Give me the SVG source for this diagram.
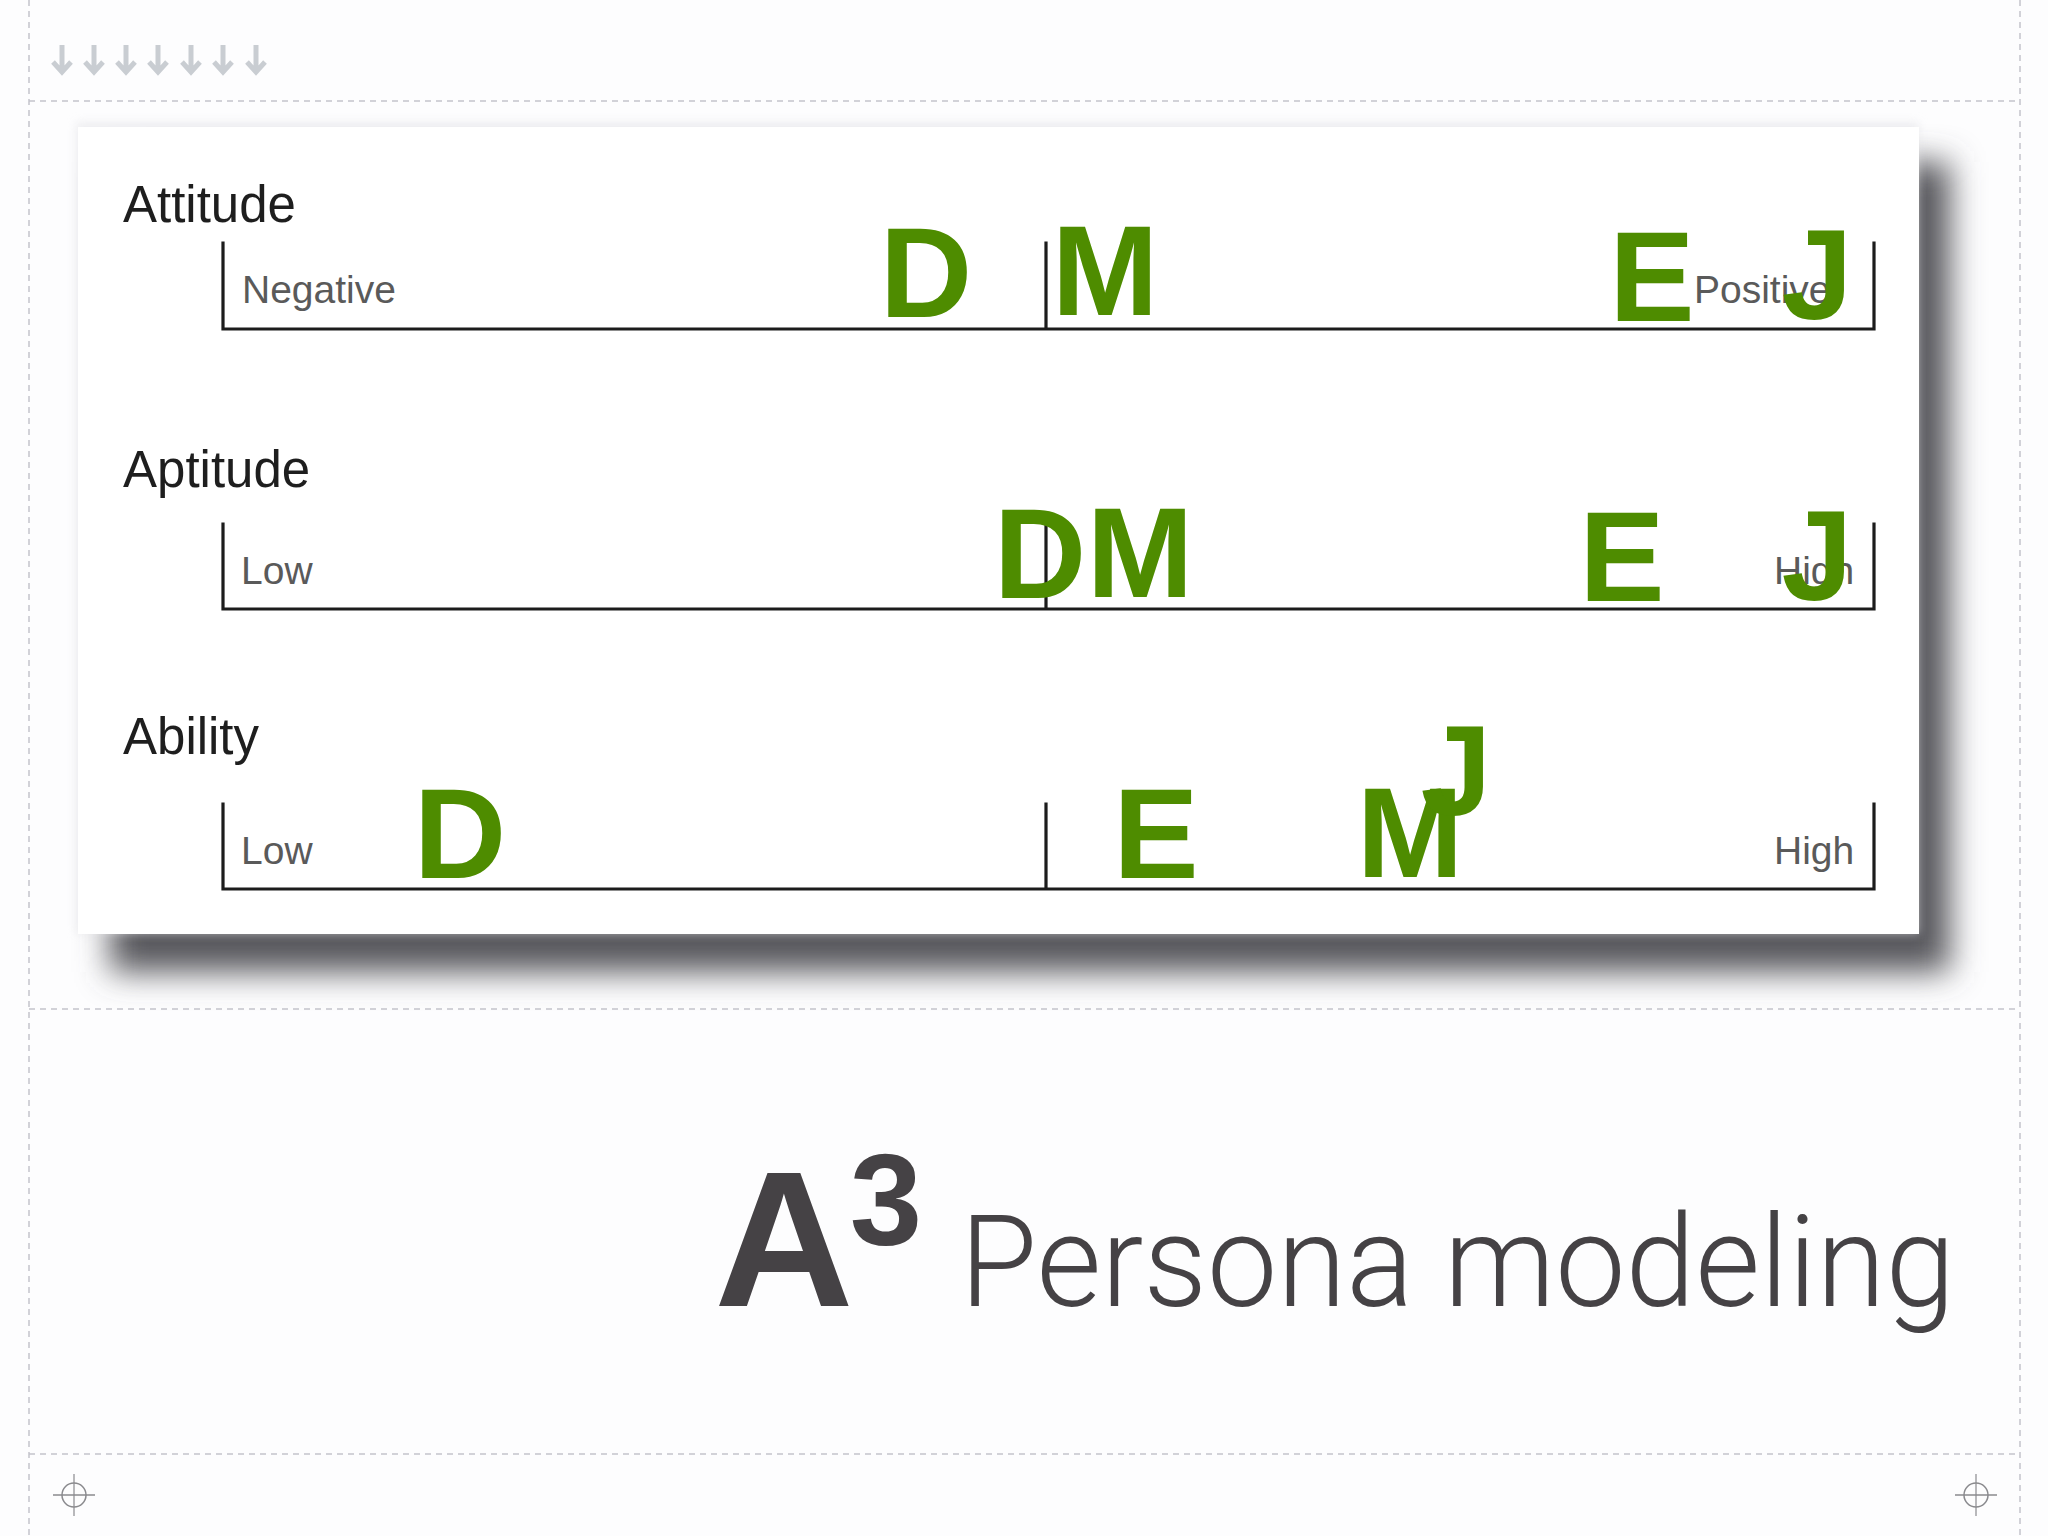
<svg xmlns="http://www.w3.org/2000/svg" width="2048" height="1536" viewBox="0 0 2048 1536">
  <defs>
    <filter id="shadowBlur" x="-10%" y="-10%" width="120%" height="120%">
      <feGaussianBlur stdDeviation="16"/>
    </filter>
    <filter id="ambient" x="-5%" y="-5%" width="110%" height="110%">
      <feGaussianBlur stdDeviation="5"/>
    </filter>
    <path id="darrow" d="M0,-14 V12 M-9,3 L0,13 L9,3" fill="none" stroke="#c9cdd2" stroke-width="5" stroke-linecap="butt"/>
    <g id="cross">
      <circle cx="0" cy="0" r="12" fill="none" stroke="#8a8a8e" stroke-width="1.5"/>
      <line x1="-21" y1="0" x2="21" y2="0" stroke="#8a8a8e" stroke-width="1.5"/>
      <line x1="0" y1="-21" x2="0" y2="21" stroke="#8a8a8e" stroke-width="1.2"/>
    </g>
  </defs>
  <style>
    .guide { stroke: #c4c4cc; stroke-width: 1.5; stroke-dasharray: 6 5; fill: none; }
    .axis { stroke: #1c1c1c; stroke-width: 3.2; fill: none; stroke-linecap: square; }
    .dim { font-family: "Liberation Sans", Arial, Helvetica, sans-serif; font-size: 51px; fill: #1e1e1e; }
    .end { font-family: "Liberation Sans", Arial, Helvetica, sans-serif; font-size: 39px; fill: #5a5a5a; }
    .p { font-family: "Liberation Sans", Arial, Helvetica, sans-serif; font-weight: bold; font-size: 128px; fill: #4e8c00; text-anchor: middle; }
    .title { font-family: "Liberation Sans", Arial, Helvetica, sans-serif; fill: #454245; }
    .sub { font-family: Roboto, "Liberation Sans", Arial, sans-serif; font-weight: 300; fill: #454245; }
  </style>

  <rect x="0" y="0" width="2048" height="1536" fill="#fdfdfe"/>

  <!-- guides -->
  <g id="guides">
    <line class="guide" x1="29" y1="0" x2="29" y2="1536"/>
    <line class="guide" x1="2020" y1="0" x2="2020" y2="1536"/>
    <line class="guide" x1="29" y1="101" x2="2020" y2="101"/>
    <line class="guide" x1="29" y1="1009" x2="2020" y2="1009"/>
    <line class="guide" x1="29" y1="1454" x2="2020" y2="1454"/>
  </g>

  <!-- top arrows -->
  <g id="arrows">
    <use href="#darrow" x="62" y="59"/>
    <use href="#darrow" x="94" y="59"/>
    <use href="#darrow" x="126" y="59"/>
    <use href="#darrow" x="158" y="59"/>
    <use href="#darrow" x="191" y="59"/>
    <use href="#darrow" x="223" y="59"/>
    <use href="#darrow" x="256" y="59"/>
  </g>

  <!-- card -->
  <g id="card">
    <rect x="110" y="162" width="1840" height="810" fill="#56565b" filter="url(#shadowBlur)"/>
    <rect x="76" y="122" width="1843" height="812" fill="#e4e4e8" opacity="0.6" filter="url(#ambient)"/>
    <rect x="78" y="127" width="1841" height="807" fill="#ffffff"/>
  </g>

  <!-- axes -->
  <g id="axes">
    <g id="attitude">
      <text class="dim" x="123" y="222">Attitude</text>
      <path class="axis" d="M223,243 V329 H1874 V243 M1046,243 V329"/>
      <text class="end" x="242" y="303">Negative</text>
      <text class="end" x="1694" y="303">Positive</text>
    </g>
    <g id="aptitude">
      <text class="dim" x="123" y="487">Aptitude</text>
      <path class="axis" d="M223,524 V609 H1874 V524 M1046,524 V609"/>
      <text class="end" x="241" y="584">Low</text>
      <text class="end" x="1774" y="584">High</text>
    </g>
    <g id="ability">
      <text class="dim" x="123" y="754">Ability</text>
      <path class="axis" d="M223,804 V889 H1874 V804 M1046,804 V889"/>
      <text class="end" x="241" y="864">Low</text>
      <text class="end" x="1774" y="864">High</text>
    </g>
  </g>

  <!-- persona markers -->
  <g id="markers">
    <text class="p" x="926" y="317">D</text>
    <text class="p" x="1105" y="315">M</text>
    <text class="p" x="1652" y="321">E</text>
    <text class="p" x="1817" y="319">J</text>

    <text class="p" x="1040" y="598">D</text>
    <text class="p" x="1140" y="597">M</text>
    <text class="p" x="1622" y="601">E</text>
    <text class="p" x="1817" y="600">J</text>

    <text class="p" x="460" y="878">D</text>
    <text class="p" x="1156" y="878">E</text>
    <text class="p" x="1410" y="877">M</text>
    <text class="p" x="1456" y="815">J</text>
  </g>

  <!-- title -->
  <g id="title">
    <text class="title" x="784" y="1306" font-size="193" font-weight="bold" text-anchor="middle">A</text>
    <text class="title" x="886" y="1245" font-size="130" font-weight="bold" text-anchor="middle">3</text>
    <text class="sub" x="960" y="1306" font-size="128" textLength="995" lengthAdjust="spacingAndGlyphs">Persona modeling</text>
  </g>

  <!-- corner marks -->
  <g id="corners">
    <use href="#cross" x="74" y="1495"/>
    <use href="#cross" x="1976" y="1495"/>
  </g>
</svg>
